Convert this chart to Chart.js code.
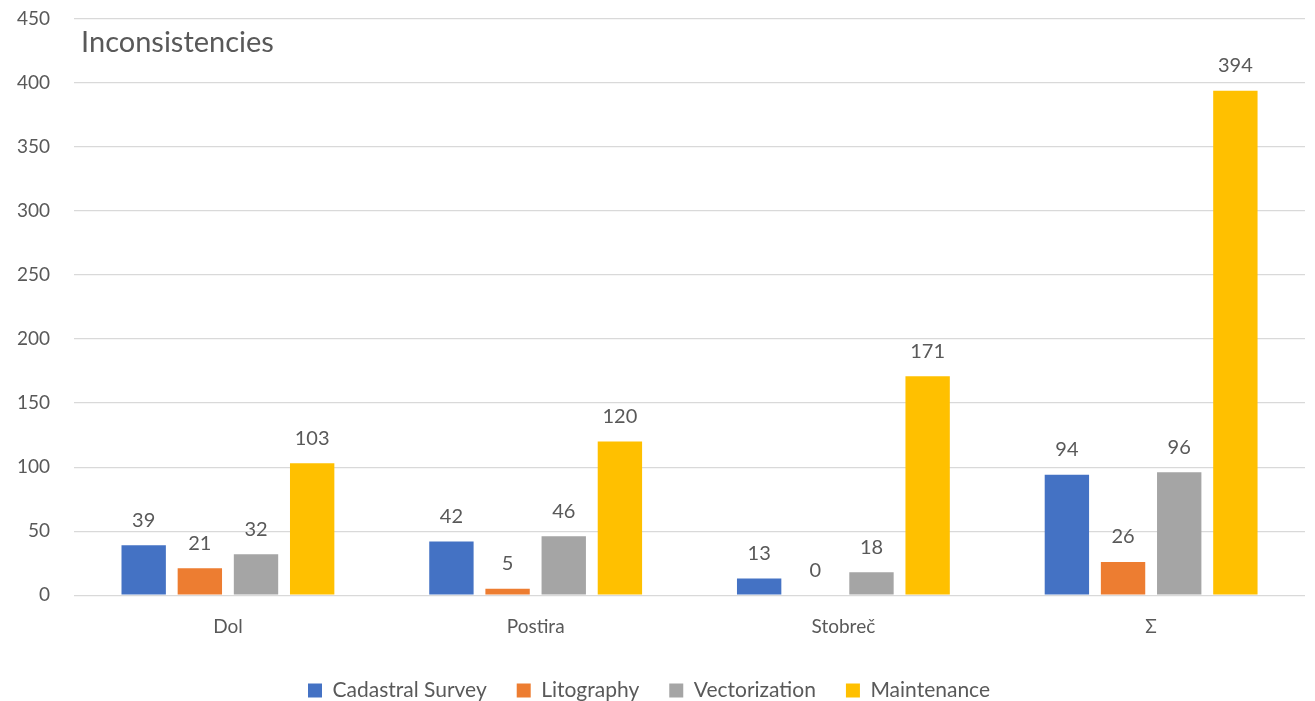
<!DOCTYPE html>
<html>
<head>
<meta charset="utf-8">
<script src="https://cdn.jsdelivr.net/npm/chart.js@4"></script>
<style>
  html, body { margin: 0; padding: 0; background: #fff; }
  #wrap { width: 1315px; height: 701px; }
</style>
</head>
<body>
<div id="wrap"><canvas id="chart"></canvas></div>
<script>
const categories = ["Dol", "Postira", "Stobreč", "Σ"];
const cadastralSurvey = [39, 42, 13, 94];
const litography = [21, 5, 0, 26];
const vectorization = [32, 46, 18, 96];
const maintenance = [103, 120, 171, 394];
const yTicks = [0, 50, 100, 150, 200, 250, 300, 350, 400, 450];

const textColor = "#595959";
const fontFamily = "Lato, 'Open Sans', sans-serif";

// value labels above each bar
const valueLabels = {
  id: "valueLabels",
  afterDatasetsDraw(chart) {
    const ctx = chart.ctx;
    ctx.save();
    ctx.font = "20px " + fontFamily;
    ctx.fillStyle = textColor;
    ctx.textAlign = "center";
    ctx.textBaseline = "bottom";
    chart.data.datasets.forEach((ds, i) => {
      chart.getDatasetMeta(i).data.forEach((bar, j) => {
        ctx.fillText(ds.data[j], bar.x, bar.y - 15);
      });
    });
    ctx.restore();
  },
};

// title sits inside the plot area, top left
const innerTitle = {
  id: "innerTitle",
  afterDraw(chart) {
    const ctx = chart.ctx;
    ctx.save();
    ctx.font = "29px " + fontFamily;
    ctx.fillStyle = textColor;
    ctx.textAlign = "left";
    ctx.textBaseline = "middle";
    ctx.fillText("Inconsistencies", chart.chartArea.left + 7, 43);
    ctx.restore();
  },
};

new Chart(document.getElementById("chart"), {
  type: "bar",
  data: {
    labels: categories,
    datasets: [
      { label: "Cadastral Survey", data: cadastralSurvey, backgroundColor: "#4472c4" },
      { label: "Litography", data: litography, backgroundColor: "#ed7d31" },
      { label: "Vectorization", data: vectorization, backgroundColor: "#a5a5a5" },
      { label: "Maintenance", data: maintenance, backgroundColor: "#ffc000" },
    ],
  },
  options: {
    responsive: true,
    maintainAspectRatio: false,
    animation: false,
    categoryPercentage: 0.73,
    barPercentage: 0.79,
    layout: { padding: { top: 0, right: 10, left: -7, bottom: -10 } },
    plugins: {
      title: { display: false },
      tooltip: { enabled: false },
      legend: {
        position: "bottom",
        labels: {
          color: textColor,
          font: { size: 21, family: fontFamily },
          boxWidth: 14,
          boxHeight: 14,
          padding: 30,
        },
      },
    },
    scales: {
      x: {
        grid: { display: false },
        border: { display: false },
        ticks: {
          color: textColor,
          font: { size: 19, family: fontFamily },
          padding: 12,
        },
      },
      y: {
        min: 0,
        max: 450,
        afterBuildTicks(axis) {
          axis.ticks = yTicks.map(v => ({ value: v }));
        },
        // tick padding would otherwise push the plot down from the top
        afterFit(axis) {
          axis.paddingTop = 19;
          axis.paddingBottom = 10;
        },
        grid: { color: "#d9d9d9", lineWidth: 1.3, drawTicks: false },
        border: { display: false },
        ticks: {
          color: textColor,
          font: { size: 19, family: fontFamily },
          padding: 24,
        },
      },
    },
  },
  plugins: [valueLabels, innerTitle],
});
</script>
</body>
</html>
